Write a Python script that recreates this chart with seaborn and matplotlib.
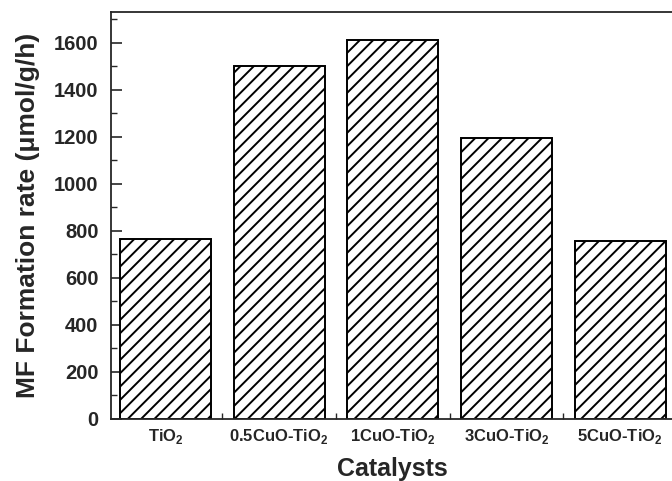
import matplotlib
matplotlib.use("Agg")
import matplotlib.pyplot as plt
import seaborn as sns
import pandas as pd
from matplotlib.ticker import MultipleLocator

# === Data ===
catalysts = ["TiO$_\\mathbf{2}$", "0.5CuO-TiO$_\\mathbf{2}$", "1CuO-TiO$_\\mathbf{2}$",
             "3CuO-TiO$_\\mathbf{2}$", "5CuO-TiO$_\\mathbf{2}$"]
mf_rate = [765, 1500, 1610, 1195, 755]

df = pd.DataFrame({"catalyst": catalysts, "rate": mf_rate})

# rendered at 80 dpi so the hatch comes out denser; S rescales point sizes
DPI = 80
S = 100 / DPI

sns.set_style("ticks")
plt.rcParams["font.family"] = ["Liberation Sans", "DejaVu Sans"]
plt.rcParams["font.weight"] = "bold"
plt.rcParams["mathtext.fontset"] = "custom"
plt.rcParams["mathtext.rm"] = "Liberation Sans:bold"
plt.rcParams["mathtext.bf"] = "Liberation Sans:bold"
plt.rcParams["hatch.linewidth"] = 1.4 * S

fig = plt.figure(figsize=(672 / DPI, 481 / DPI), dpi=DPI)
ax = fig.add_axes([0.165, 0.129, 0.839, 0.846])

sns.barplot(data=df, x="catalyst", y="rate", color="white", edgecolor="black",
            linewidth=1.4 * S, width=0.8, ax=ax)
for p in ax.patches:
    p.set_hatch("//")
    p.set_facecolor("white")

ax.set_xlim(-0.48, 4.48)
ax.set_ylim(0, 1730)
ax.yaxis.set_major_locator(MultipleLocator(200))
ax.yaxis.set_minor_locator(MultipleLocator(100))
ax.xaxis.set_minor_locator(MultipleLocator(0.5))

ax.tick_params(axis="y", which="major", direction="in", length=8 * S, width=1.2 * S,
               labelsize=14.5 * S, pad=9 * S)
ax.tick_params(axis="y", which="minor", direction="in", length=4 * S, width=1.0 * S)
ax.tick_params(axis="x", which="major", direction="in", length=7 * S, width=1.0 * S,
               labelsize=12 * S, pad=6 * S)
ax.tick_params(axis="x", which="minor", direction="in", length=4 * S, width=1.0 * S)

for s in ax.spines.values():
    s.set_linewidth(1.3 * S)
    s.set_visible(True)

ax.set_xlabel("Catalysts", fontsize=18 * S, fontweight="bold", labelpad=8 * S)
ax.set_ylabel("MF Formation rate (\u03bcmol/g/h)", fontsize=19 * S, fontweight="bold",
              labelpad=10 * S)

fig.savefig("out.png", dpi=DPI)
